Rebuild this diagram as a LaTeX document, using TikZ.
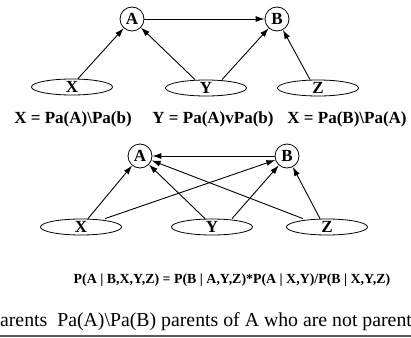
\documentclass[tikz,border=0pt]{standalone}
\usepackage{fontspec}
\setmainfont{Liberation Serif}
\usetikzlibrary{arrows.meta,positioning,calc,shapes.geometric}

\begin{document}
\begin{tikzpicture}[x=1pt, y=-1pt,
      var/.style={draw, line width=0.8pt, circle, inner sep=0pt, minimum size=24pt, text height=11pt,
                  text depth=0pt, font=\fontsize{17}{17}\selectfont\bfseries},
      obs/.style={draw, line width=0.8pt, ellipse, inner sep=0pt, minimum width=81pt, minimum height=16pt,
                  text height=10pt, text depth=0pt, font=\fontsize{17}{17}\selectfont\bfseries},
      lab/.style={inner sep=0pt, font=\fontsize{17}{17}\selectfont\bfseries},
      arr/.style={-{Latex[length=9pt,width=6pt]}, line width=0.9pt}
    ]
      \useasboundingbox (0,0) rectangle (411,337);
      \clip (0,0) rectangle (411,337);
      % first network
      \node[var] (a1) at (132,19) {A};
      \node[var] (b1) at (277,19) {B};
      \node[obs] (x1) at (72,87) {X};
      \node[obs] (y1) at (206,88) {Y};
      \node[obs] (z1) at (318,88) {Z};
      \draw[arr] (a1) -- (b1);
      \draw[arr] ($(x1.north)+(6,0)$) -- (a1);
      \draw[arr] ($(y1.north)+(-11,0)$) -- (a1);
      \draw[arr] ($(y1.north)+(16,0)$) -- (b1);
      \draw[arr] ($(z1.north)+(-8,0)$) -- (b1);
      \node[lab] (px) at (73,119) {X = Pa(A)\textbackslash Pa(b)};
      \node[lab] (py) at (213,119) {Y = Pa(A)vPa(b)};
      \node[lab] (pz) at (347,119) {X = Pa(B)\textbackslash Pa(A)};
      % second network
      \node[var] (a2) at (140,156) {A};
      \node[var] (b2) at (287,156) {B};
      \node[obs] (x2) at (81,227) {X};
      \node[obs] (y2) at (212,227) {Y};
      \node[obs] (z2) at (327,227) {Z};
      \draw[arr] (b2) -- (a2);
      \draw[arr] ($(x2.north)+(7,0)$) -- (a2);
      \draw[arr] ($(x2.north)+(24,0)$) -- (b2);
      \draw[arr] ($(y2.north)+(-7,0)$) -- (a2);
      \draw[arr] ($(y2.north)+(20,0)$) -- (b2);
      \draw[arr] ($(z2.north)+(-24,0)$) -- (a2);
      \draw[arr] ($(z2.north)+(-7,0)$) -- (b2);
      \node[inner sep=0pt, font=\fontsize{13.9}{14}\selectfont\bfseries] (eq) at (232,280)
        {P(A | B,X,Y,Z) = P(B | A,Y,Z)*P(A | X,Y)/P(B | X,Y,Z)};
      % cut-off line of text
      \node[anchor=base west, inner sep=0pt, font=\fontsize{19.8}{20}\selectfont] (txt) at (-10,326)
        {parents\ \ Pa(A)\textbackslash Pa(B) parents of A who are not parents};
      \draw[line width=2pt, black!65] (0,336) -- (411,336);
    \end{tikzpicture}
\end{document}
